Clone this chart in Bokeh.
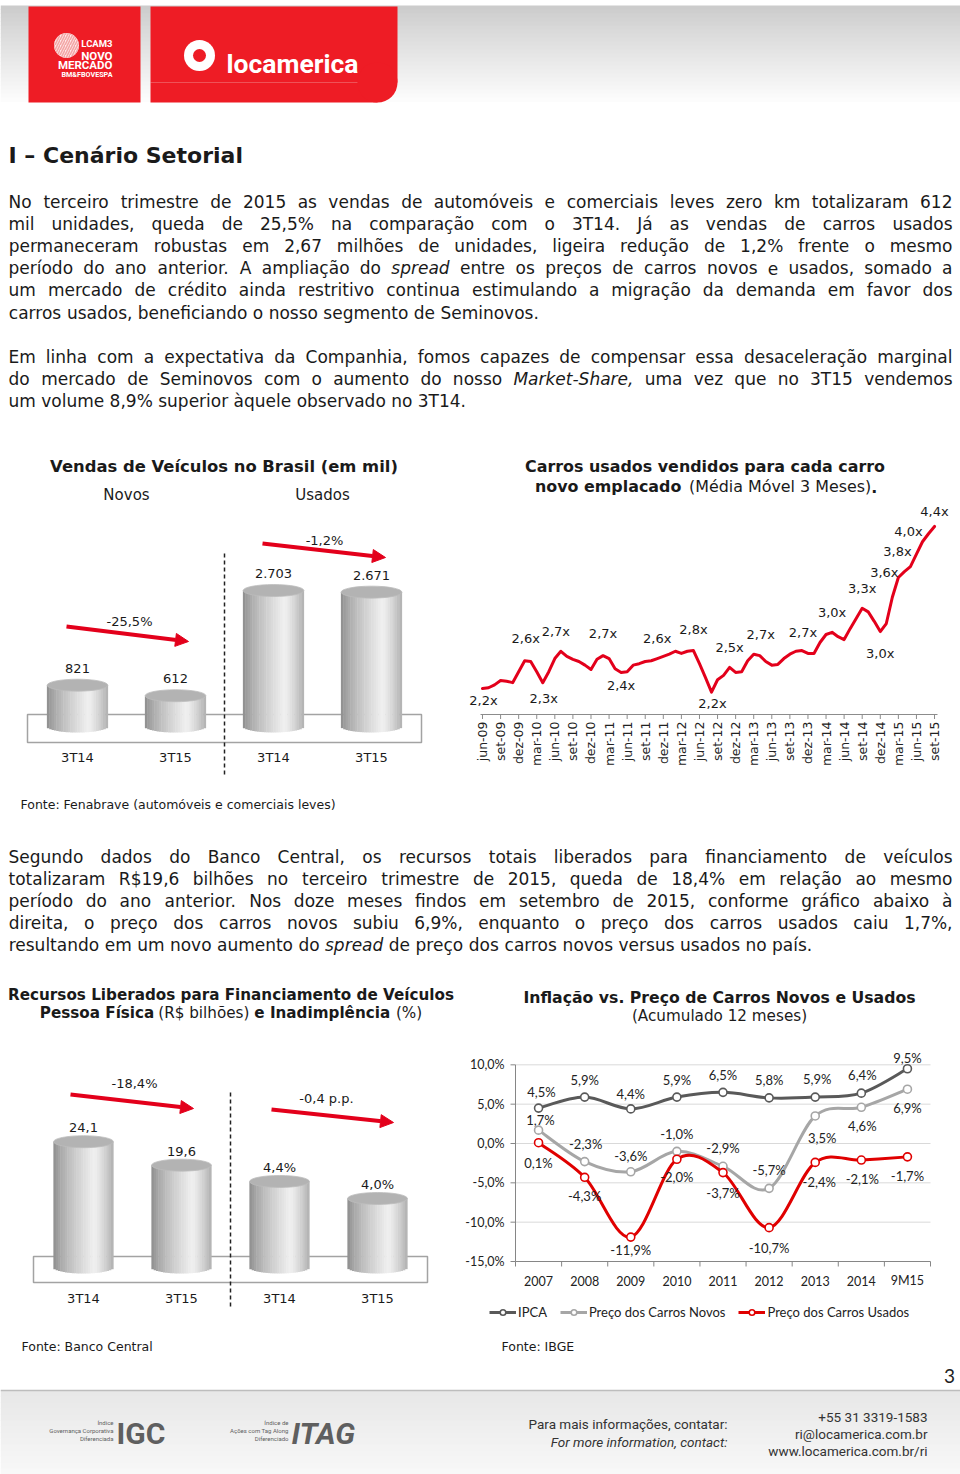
import math
from bokeh.plotting import figure
from bokeh.layouts import column, row
from bokeh.models import Range1d, Arrow, NormalHead, Legend, LegendItem
from bokeh.core.properties import value
from bokeh.embed import file_html
from bokeh.resources import INLINE

# ------------------------------------------------------------------ data
vendas_cats = ["3T14", "3T15", "3T14", "3T15"]
vendas_grupos = ["Novos", "Usados"]
vendas_novos = [821, 612]
vendas_usados = [2703, 2671]
vendas_var = ["-25,5%", "-1,2%"]

ratio_ticks = ["jun-09", "set-09", "dez-09", "mar-10", "jun-10", "set-10", "dez-10",
               "mar-11", "jun-11", "set-11", "dez-11", "mar-12", "jun-12", "set-12",
               "dez-12", "mar-13", "jun-13", "set-13", "dez-13", "mar-14", "jun-14",
               "set-14", "dez-14", "mar-15", "jun-15", "set-15"]
ratio_values = [2.20, 2.21, 2.25, 2.31, 2.30, 2.28, 2.43, 2.58, 2.57, 2.43,
                2.28, 2.43, 2.61, 2.71, 2.64, 2.60, 2.57, 2.52, 2.46, 2.60,
                2.65, 2.61, 2.47, 2.42, 2.43, 2.52, 2.54, 2.57, 2.58, 2.61,
                2.64, 2.67, 2.71, 2.68, 2.71, 2.72, 2.54, 2.35, 2.15, 2.32,
                2.38, 2.49, 2.42, 2.43, 2.58, 2.67, 2.65, 2.57, 2.52, 2.53,
                2.61, 2.67, 2.71, 2.72, 2.68, 2.68, 2.83, 2.94, 2.97, 2.91,
                2.87, 3.02, 3.16, 3.30, 3.25, 3.12, 2.98, 3.09, 3.45, 3.72,
                3.80, 3.87, 4.04, 4.21, 4.32, 4.42]
ratio_label_months = [0, 7, 13, 10, 20, 23, 29, 35, 38, 41, 46, 53, 58, 63, 66, 69, 71, 73, 75]
ratio_label_text = ["2,2x", "2,6x", "2,7x", "2,3x", "2,7x", "2,4x", "2,6x", "2,8x", "2,2x",
                    "2,5x", "2,7x", "2,7x", "3,0x", "3,3x", "3,0x", "3,6x", "3,8x", "4,0x", "4,4x"]

fin_cats = ["3T14", "3T15", "3T14", "3T15"]
fin_recursos = [24.1, 19.6]
fin_inadimp = [4.4, 4.0]
fin_var = ["-18,4%", "-0,4 p.p."]

inf_years = ["2007", "2008", "2009", "2010", "2011", "2012", "2013", "2014", "9M15"]
inf_ipca = [4.5, 5.9, 4.4, 5.9, 6.5, 5.8, 5.9, 6.4, 9.5]
inf_novos = [1.7, -2.3, -3.6, -1.0, -2.9, -5.7, 3.5, 4.6, 6.9]
inf_usados = [0.1, -4.3, -11.9, -2.0, -3.7, -10.7, -2.4, -2.1, -1.7]
inf_ticks = [-15, -10, -5, 0, 5, 10]
inf_tick_labels = ["-15,0%", "-10,0%", "-5,0%", "0,0%", "5,0%", "10,0%"]
inf_series = ["IPCA", "Preço dos Carros Novos", "Preço dos Carros Usados"]

# ------------------------------------------------------------------ styles
FONT = "DejaVu Sans"
CAL = "Lato"
INK = "#1a1a1a"
RED = "#e3001b"
AXC = "#868686"

ACC = {'á': 'a', 'à': 'a', 'ã': 'a', 'â': 'a', 'é': 'e', 'ê': 'e', 'í': 'i', 'ó': 'o',
       'õ': 'o', 'ô': 'o', 'ú': 'u', 'ç': 'c', 'Á': 'A', 'Í': 'I', 'É': 'E', 'Ó': 'O'}
W = {' ': 651, '!': 821, '$': 1303, '%': 1946, '&': 1593, '(': 799, ')': 799, '+': 1716,
     ',': 651, '-': 739, '.': 651, '/': 690, ':': 690, ';': 690, '@': 2048, '–': 1024,
     'A': 1401, 'B': 1405, 'C': 1430, 'D': 1577, 'E': 1294, 'F': 1178, 'G': 1587, 'H': 1540,
     'I': 604, 'J': 604, 'K': 1343, 'L': 1141, 'M': 1767, 'N': 1532, 'O': 1612, 'P': 1235,
     'Q': 1612, 'R': 1423, 'S': 1300, 'T': 1251, 'U': 1499, 'V': 1401, 'W': 2025, 'X': 1403,
     'Y': 1251, 'Z': 1405, 'a': 1255, 'b': 1300, 'c': 1126, 'd': 1300, 'e': 1260, 'f': 721,
     'g': 1300, 'h': 1298, 'i': 569, 'j': 569, 'k': 1186, 'l': 569, 'm': 1995, 'n': 1298,
     'o': 1253, 'p': 1300, 'q': 1300, 'r': 842, 's': 1067, 't': 803, 'u': 1298, 'v': 1212,
     'w': 1675, 'x': 1212, 'y': 1212, 'z': 1075}
for _d in "0123456789":
    W[_d] = 1303


def tw(s, size, bold=False):
    tot = sum(W.get(ACC.get(ch, ch), 1250) for ch in s)
    return tot / 2048.0 * size * (1.13 if bold else 1.0)


def fig(w, h, xr, yr):
    p = figure(width=w, height=h, x_range=xr, y_range=yr, toolbar_location=None,
               output_backend="svg", x_axis_type=None, y_axis_type=None,
               outline_line_color=None, min_border=0)
    p.background_fill_color = "white"
    p.border_fill_color = "white"
    return p


def txt(p, xs, ys, texts, size, bold=False, italic=False, align="center", color=INK,
        font=FONT, baseline="middle", **kw):
    style = "bold italic" if (bold and italic) else "bold" if bold else "italic" if italic else "normal"
    p.text(x=list(xs), y=list(ys), text=list(texts), text_font=value(font),
           text_font_size=f"{size}px", text_font_style=style, text_align=align,
           text_baseline=baseline, text_color=color, **kw)


def rich_line(p, fx, fy, cx, y, pieces, size):
    sp = tw(" ", size)
    widths = [tw(t, size, b) for t, b, s in pieces]
    total = sum(widths) + sum(sp for t, b, s in pieces if s)
    x = cx - total / 2
    for (t, b, s), wd in zip(pieces, widths):
        if s:
            x += sp
        txt(p, [fx(x)], [fy(y)], [t], size, bold=b, align="left")
        x += wd


def paragraph(p, lines, y0, lh=22.2, x0=8, x1=952, size=17):
    sp = tw(" ", size)
    nx, ny, nt, ix, iy, it = [], [], [], [], [], []
    for li, line in enumerate(lines):
        words = line.split(" ")
        clean = [w.strip("_") for w in words]
        ws = [tw(c, size) for c in clean]
        last = li == len(lines) - 1
        if last or len(words) < 2:
            gap = sp
        else:
            gap = max(sp * 0.5, (x1 - x0 - sum(ws)) / (len(words) - 1))
        x = x0
        for w, c, wd in zip(words, clean, ws):
            if w.startswith("_"):
                ix.append(x + wd / 2); iy.append(y0 + li * lh); it.append(c)
            else:
                nx.append(x + wd / 2); ny.append(y0 + li * lh); nt.append(c)
            x += wd + gap
    txt(p, nx, ny, nt, size)
    if it:
        txt(p, ix, iy, it, size, italic=True)


def shade(t):
    if t < 0.68:
        g = 138 + (240 - 138) * (t / 0.68) ** 0.7
    else:
        g = 240 - (240 - 176) * ((t - 0.68) / 0.32) ** 1.3
    g = int(round(g))
    return "#%02x%02x%02x" % (g, g, g)


def cylinders(p, xs, vals, bw, scale, base=0.0, ell_h=12, rname="default"):
    n = 26
    hh = ell_h / 2.0
    for k in range(n):
        t = (k + 0.5) / n
        u = 2 * t - 1
        off = (t - 0.5) * bw
        bottom = base - hh * math.sqrt(max(0.0, 1 - u * u)) / scale
        p.vbar(x=[x + off for x in xs], width=bw / n * 1.2, top=vals, bottom=bottom,
               fill_color=shade(t), line_color=None, y_range_name=rname)
    p.ellipse(x=xs, y=vals, width=bw, height=ell_h, height_units="screen",
              fill_color="#b3b3b3", line_color="#bdbdbd", line_width=0.8, y_range_name=rname)


def red_arrow(p, x0, y0, x1, y1):
    p.add_layout(Arrow(end=NormalHead(size=13, fill_color=RED, line_color=RED),
                       x_start=x0, y_start=y0, x_end=x1, y_end=y1,
                       line_color=RED, line_width=4))


# ------------------------------------------------------------------ header
hdr = fig(960, 140, Range1d(0, 960), Range1d(140, 0))
nb = 24
for i in range(nb):
    g = int(204 + (252 - 204) * (i / (nb - 1)) ** 0.9)
    hdr.quad(left=0, right=960, top=5 + i * 4, bottom=5 + (i + 1) * 4 + 0.5,
             fill_color="#%02x%02x%02x" % (g, g, g), line_color=None)
LRED = "#ee1c25"
hdr.quad(left=28, right=140, top=6, bottom=102, fill_color=LRED, line_color=None)
hdr.quad(left=150, right=397, top=6, bottom=82, fill_color=LRED, line_color=None)
hdr.quad(left=150, right=377, top=82, bottom=102, fill_color=LRED, line_color=None)
hdr.circle(x=[377], y=[82], radius=20, fill_color=LRED, line_color=None)
hdr.circle(x=[199], y=[55], radius=15.5, fill_color="white", line_color=None)
hdr.circle(x=[199], y=[55], radius=6.5, fill_color=LRED, line_color=None)
txt(hdr, [226], [63], ["locamerica"], 26.5, bold=True, align="left", color="white",
    font="Roboto", baseline="alphabetic")
hdr.circle(x=[66], y=[45], radius=12.5, fill_color="white", fill_alpha=0.9, line_color=None,
           hatch_pattern="/", hatch_color="#f3a6a6", hatch_scale=5, hatch_weight=1.6)
txt(hdr, [112], [43], ["LCAM3"], 9.5, bold=True, align="right", color="white", font="Roboto")
txt(hdr, [112], [55], ["NOVO"], 11.5, bold=True, align="right", color="white", font="Roboto")
txt(hdr, [112], [64], ["MERCADO"], 11.5, bold=True, align="right", color="white", font="Roboto")
txt(hdr, [112], [73.5], ["BM&FBOVESPA"], 7.2, bold=True, align="right", color="white", font="Roboto")

# ------------------------------------------------------------------ text block 1
t1 = fig(960, 305, Range1d(0, 960), Range1d(305, 0))
txt(t1, [8], [15], ["I – Cenário Setorial"], 22, bold=True, align="left")
p1_lines = [
    "No terceiro trimestre de 2015 as vendas de automóveis e comerciais leves zero km totalizaram 612",
    "mil unidades, queda de 25,5% na comparação com o 3T14. Já as vendas de carros usados",
    "permaneceram robustas em 2,67 milhões de unidades, ligeira redução de 1,2% frente o mesmo",
    "período do ano anterior. A ampliação do _spread_ entre os preços de carros novos e usados, somado a",
    "um mercado de crédito ainda restritivo continua estimulando a migração da demanda em favor dos",
    "carros usados, beneficiando o nosso segmento de Seminovos.",
]
p2_lines = [
    "Em linha com a expectativa da Companhia, fomos capazes de compensar essa desaceleração marginal",
    "do mercado de Seminovos com o aumento do nosso _Market-Share,_ uma vez que no 3T15 vendemos",
    "um volume 8,9% superior àquele observado no 3T14.",
]
paragraph(t1, p1_lines, 61)
paragraph(t1, p2_lines, 216)

# ------------------------------------------------------------------ chart 1 (bars)
def fx1(ax): return (ax - 77) / 98.0
S1 = 0.0503
def fy1(ay): return (726 - ay) / S1

c1 = fig(465, 345, Range1d(fx1(0), fx1(465)), Range1d(fy1(790), fy1(445)))
c1.quad(left=fx1(27), right=fx1(421), top=fy1(714), bottom=fy1(742),
        fill_color="white", line_color="#a3a3a3", line_width=1.5)
c1.segment(x0=[1.5], y0=[fy1(553)], x1=[1.5], y1=[fy1(777)], line_color="#222222",
           line_width=1.5, line_dash="4 3")
v1 = vendas_novos + vendas_usados
x1s = list(range(len(v1)))
cylinders(c1, x1s, v1, 0.62, S1)
txt(c1, x1s, [v + 17 / S1 for v in v1], [f"{v:,}".replace(",", ".") for v in v1], 13)
txt(c1, x1s, [-31 / S1] * 4, vendas_cats, 13)
txt(c1, [0.5, 2.5], [fy1(494)] * 2, vendas_grupos, 15)
txt(c1, [fx1(223.5)], [fy1(466)], ["Vendas de Veículos no Brasil (em mil)"], 16.4, bold=True)
red_arrow(c1, fx1(66), fy1(626), fx1(188), fy1(641))
red_arrow(c1, fx1(262), fy1(543), fx1(385), fy1(557))
txt(c1, [fx1(129), fx1(324)], [fy1(621), fy1(540)], vendas_var, 13)

# ------------------------------------------------------------------ chart 2 (ratio line)
PXM = 6.027
SY2 = 73.0
def fx2(ax): return (ax - 482) / PXM
def fy2(ay): return 2.2 + (688 - ay) / SY2

c2 = fig(495, 345, Range1d(fx2(465), fx2(960)), Range1d(fy2(790), fy2(445)))
tick_pos = [3 * i for i in range(len(ratio_ticks))]
y_axis2 = fy2(714)
c2.segment(x0=[fx2(480)], y0=[y_axis2], x1=[fx2(937)], y1=[y_axis2], line_color="#8c8c8c", line_width=1)
c2.segment(x0=tick_pos, y0=[y_axis2] * len(tick_pos), x1=tick_pos, y1=[fy2(718.5)] * len(tick_pos),
           line_color="#8c8c8c", line_width=1)
txt(c2, tick_pos, [fy2(721)] * len(tick_pos), ratio_ticks, 12.5, align="right",
    color="#222222", angle=math.pi / 2)
c2.line(x=list(range(len(ratio_values))), y=ratio_values, line_color=RED, line_width=3,
        line_join="round", line_cap="round")
lab_off = [(1, 12), (1, -22), (-5, -20), (1, 16), (0, -22), (0, 13), (0, -20), (0, -21),
           (1, 11), (0, -20), (1, -21), (1, -18), (0, -20), (0, -20), (0, 22), (-14, -5),
           (-13, -15), (-14, -10), (0, -15)]
txt(c2, [m + dx / PXM for m, (dx, dy) in zip(ratio_label_months, lab_off)],
    [ratio_values[m] - dy / SY2 for m, (dx, dy) in zip(ratio_label_months, lab_off)],
    ratio_label_text, 13)
txt(c2, [fx2(704.5)], [fy2(466)], ["Carros usados vendidos para cada carro"], 15.9, bold=True)
rich_line(c2, fx2, fy2, 705.5, 486,
          [("novo emplacado", True, False), ("(Média Móvel 3 Meses)", False, True), (".", True, False)],
          15.9)

# ------------------------------------------------------------------ text block 2
t2 = fig(960, 185, Range1d(0, 960), Range1d(185, 0))
txt(t2, [20], [14], ["Fonte: Fenabrave (automóveis e comerciais leves)"], 12.5, align="left")
p3_lines = [
    "Segundo dados do Banco Central, os recursos totais liberados para financiamento de veículos",
    "totalizaram R$19,6 bilhões no terceiro trimestre de 2015, queda de 18,4% em relação ao mesmo",
    "período do ano anterior. Nos doze meses findos em setembro de 2015, conforme gráfico abaixo à",
    "direita, o preço dos carros novos subiu 6,9%, enquanto o preço dos carros usados caiu 1,7%,",
    "resultando em um novo aumento do _spread_ de preço dos carros novos versus usados no país.",
]
paragraph(t2, p3_lines, 66)

# ------------------------------------------------------------------ chart 3 (bars)
def fx3(ax): return (ax - 83) / 98.0
S3 = 5.22
S3P = 42.5
B3P = 2.376
def fy3(ay): return (1267 - ay) / S3
def fy3p(ay): return B3P + (1267 - ay) / S3P

c3 = fig(458, 355, Range1d(fx3(0), fx3(458)), Range1d(fy3(1330), fy3(975)))
c3.extra_y_ranges = {"pct": Range1d(fy3p(1330), fy3p(975))}
c3.quad(left=fx3(33), right=fx3(427), top=fy3(1256), bottom=fy3(1282),
        fill_color="white", line_color="#a3a3a3", line_width=1.5)
c3.segment(x0=[1.5], y0=[fy3(1092)], x1=[1.5], y1=[fy3(1307)], line_color="#222222",
           line_width=1.5, line_dash="4 3")
cylinders(c3, [0, 1], fin_recursos, 0.61, S3)
cylinders(c3, [2, 3], fin_inadimp, 0.61, S3P, base=B3P, rname="pct")
txt(c3, [0, 1], [v + 14 / S3 for v in fin_recursos],
    [f"{v:.1f}".replace(".", ",") for v in fin_recursos], 13)
txt(c3, [2, 3], [v + 14 / S3P for v in fin_inadimp],
    [f"{v:.1f}".replace(".", ",") + "%" for v in fin_inadimp], 13, y_range_name="pct")
txt(c3, [0, 1, 2, 3], [-31 / S3] * 4, fin_cats, 13)
txt(c3, [fx3(230.5)], [fy3(994)], ["Recursos Liberados para Financiamento de Veículos"], 15.2, bold=True)
rich_line(c3, fx3, fy3, 230.5, 1012,
          [("Pessoa Física", True, False), ("(R$ bilhões)", False, True),
           ("e Inadimplência", True, True), ("(%)", False, True)], 15.2)
red_arrow(c3, fx3(70), fy3(1094), fx3(193), fy3(1108))
red_arrow(c3, fx3(271), fy3(1109), fx3(393), fy3(1122))
txt(c3, [fx3(134), fx3(326)], [fy3(1083), fy3(1098)], fin_var, 13)

# ------------------------------------------------------------------ chart 4 (inflation lines)
PX4 = 415 / 9.0
S4 = 118 / 15.0
def fx4(ax): return -0.5 + (ax - 515) / PX4
def fy4(ay): return (1143 - ay) / S4

c4 = fig(502, 355, Range1d(fx4(458), fx4(960)), Range1d(fy4(1330), fy4(975)))
xpos = list(range(len(inf_years)))
x_lo, x_hi = -0.5, len(inf_years) - 0.5
grid_t = [t for t in inf_ticks if t != inf_ticks[0]]
c4.segment(x0=[x_lo] * len(grid_t), y0=grid_t, x1=[x_hi] * len(grid_t), y1=grid_t,
           line_color="#d9d9d9", line_width=1)
# y axis
c4.segment(x0=[x_lo], y0=[inf_ticks[0]], x1=[x_lo], y1=[inf_ticks[-1]], line_color=AXC, line_width=1)
c4.segment(x0=[fx4(510)] * len(inf_ticks), y0=inf_ticks, x1=[x_lo] * len(inf_ticks), y1=inf_ticks,
           line_color=AXC, line_width=1)
txt(c4, [fx4(504)] * len(inf_ticks), inf_ticks, inf_tick_labels, 12.5, align="right",
    font=CAL, color="#222222")
# x axis
bounds = [i - 0.5 for i in range(len(inf_years) + 1)]
c4.segment(x0=[x_lo], y0=[inf_ticks[0]], x1=[x_hi], y1=[inf_ticks[0]], line_color=AXC, line_width=1)
c4.segment(x0=bounds, y0=[inf_ticks[0]] * len(bounds), x1=bounds, y1=[fy4(1266)] * len(bounds),
           line_color=AXC, line_width=1)
txt(c4, xpos, [fy4(1280)] * len(xpos), inf_years, 12.5, font=CAL, color="#222222")


def smooth(p, xs, ys, color, width):
    n = len(xs)
    P = list(zip(xs, ys))
    d = {k: [] for k in ("x0", "y0", "x1", "y1", "cx0", "cy0", "cx1", "cy1")}
    for i in range(n - 1):
        pm = P[i - 1] if i > 0 else P[i]
        a = P[i]
        b = P[i + 1]
        pn = P[i + 2] if i + 2 < n else P[i + 1]
        d["x0"].append(a[0]); d["y0"].append(a[1])
        d["x1"].append(b[0]); d["y1"].append(b[1])
        d["cx0"].append(a[0] + (b[0] - pm[0]) / 6.0); d["cy0"].append(a[1] + (b[1] - pm[1]) / 6.0)
        d["cx1"].append(b[0] - (pn[0] - a[0]) / 6.0); d["cy1"].append(b[1] - (pn[1] - a[1]) / 6.0)
    return p.bezier(line_color=color, line_width=width, **d)


colors4 = ["#595959", "#a6a6a6", "#e00000"]
series4 = [inf_ipca, inf_novos, inf_usados]
items = []
for name, vals, col in zip(inf_series, series4, colors4):
    bz = smooth(c4, xpos, vals, col, 3)
    sc = c4.scatter(x=xpos, y=vals, size=8, marker="circle", fill_color="white",
                    line_color=col, line_width=1.6)
    items.append(LegendItem(label=name, renderers=[bz, sc]))

off_ipca = [(3, -16), (0, -17), (0, -15), (0, -17), (0, -17), (0, -18), (2, -18), (1, -18), (0, -11)]
off_novos = [(2, -10), (1, -18), (0, -16), (0, -17), (0, -18), (0, -18), (7, 22), (1, 19), (0, 19)]
off_usados = [(0, 20), (0, 19), (0, 13), (0, 18), (0, 20), (0, 20), (4, 20), (1, 19), (0, 19)]
for vals, offs in zip(series4, [off_ipca, off_novos, off_usados]):
    txt(c4, [x + dx / PX4 for x, (dx, dy) in zip(xpos, offs)],
        [v - dy / S4 for v, (dx, dy) in zip(vals, offs)],
        [f"{v:.1f}".replace(".", ",") + "%" for v in vals], 13, font=CAL, color="#222222")

txt(c4, [fx4(719)], [fy4(997)], ["Inflação vs. Preço de Carros Novos e Usados"], 15.7, bold=True)
txt(c4, [fx4(719)], [fy4(1015)], ["(Acumulado 12 meses)"], 15.2)
leg = Legend(items=items, orientation="horizontal", location=(28, 7))
leg.background_fill_alpha = 0
leg.border_line_alpha = 0
leg.padding = 3
leg.margin = 0
leg.spacing = 13
leg.glyph_width = 27
leg.glyph_height = 14
leg.label_height = 14
leg.label_standoff = 2
leg.label_text_font = CAL
leg.label_text_font_size = "13px"
leg.label_text_color = "#222222"
c4.add_layout(leg)

# ------------------------------------------------------------------ footer
ft = fig(960, 144, Range1d(0, 960), Range1d(144, 0))
txt(ft, [21], [16], ["Fonte: Banco Central"], 12.5, align="left")
txt(ft, [501], [16], ["Fonte: IBGE"], 12.5, align="left")
txt(ft, [949], [45], ["3"], 19, font=CAL, color="#222222")
nf = 14
for i in range(nf):
    g = int(232 + (248 - 232) * (i / (nf - 1)))
    ft.quad(left=0, right=960, top=60 + i * 6, bottom=60 + (i + 1) * 6 + 0.5,
            fill_color="#%02x%02x%02x" % (g, g, g), line_color=None)
ft.segment(x0=[0], y0=[60], x1=[960], y1=[60], line_color="#bdbdbd", line_width=1.5)
GR = "#5f5f5f"
txt(ft, [113] * 3, [92, 100, 108], ["Índice", "Governança Corporativa", "Diferenciada"], 6,
    align="right", color=GR, font="Roboto")
txt(ft, [116], [103], ["IGC"], 30, bold=True, align="left", color=GR, font="Roboto")
txt(ft, [288] * 3, [92, 100, 108], ["Índice de", "Ações com Tag Along", "Diferenciado"], 6,
    align="right", color=GR, font="Roboto")
txt(ft, [291], [103], ["ITAG"], 30, bold=True, italic=True, align="left", color=GR, font="Roboto")
txt(ft, [727], [93], ["Para mais informações, contatar:"], 13.5, align="right", color="#333333", font="Roboto")
txt(ft, [727], [111], ["For more information, contact:"], 13.5, italic=True, align="right",
    color="#333333", font="Roboto")
txt(ft, [927] * 3, [86, 103, 120], ["+55 31 3319-1583", "ri@locamerica.com.br", "www.locamerica.com.br/ri"],
    13.5, align="right", color="#333333", font="Roboto")

# ------------------------------------------------------------------ layout
page = column(hdr, t1, row(c1, c2, spacing=0), t2, row(c3, c4, spacing=0), ft, spacing=0)
open("out.html", "w").write(file_html(page, INLINE))
